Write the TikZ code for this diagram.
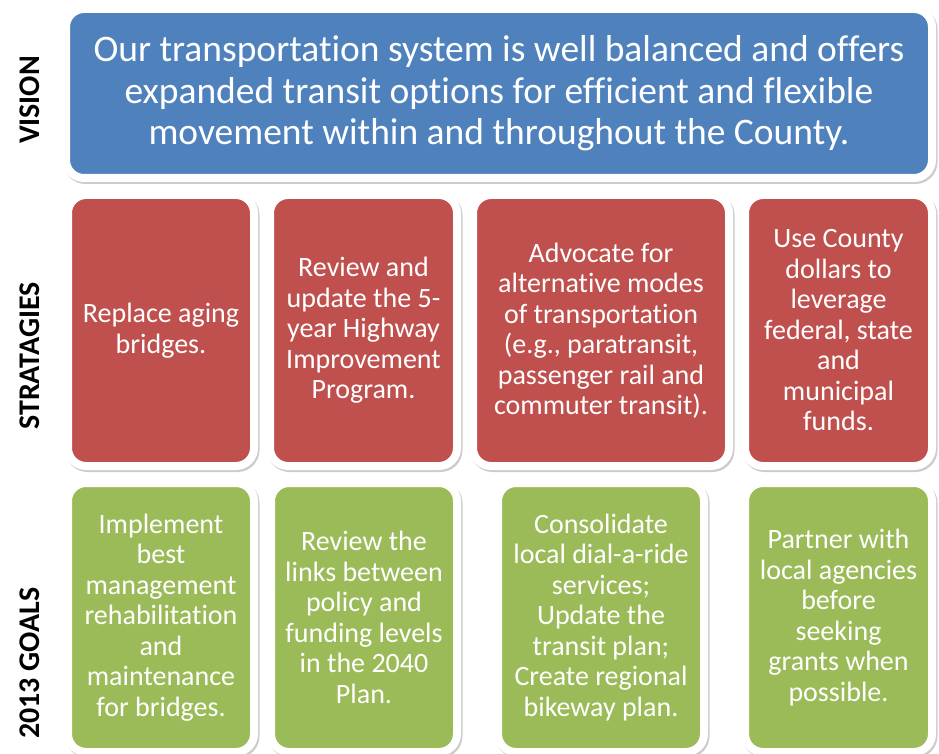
\documentclass[tikz,border=0pt]{standalone}
\usepackage{fontspec}
\setmainfont{Carlito}[Ligatures={NoCommon,NoContextual}]
\usetikzlibrary{shadows}
\definecolor{visblue}{HTML}{4F81BD}
\definecolor{strred}{HTML}{C0504D}
\definecolor{goalgreen}{HTML}{9BBB59}
\tikzset{
  framedbox/.style={draw=white, line width=8pt, rounded corners=18pt,
    inner sep=0pt, align=center, text=white,
    drop shadow={shadow xshift=1.5pt, shadow yshift=-2pt, fill=black!20, draw=black!20, line width=8pt, opacity=1}},
  bodytext/.style={font=\fontsize{28}{30.5}\selectfont},
  rowlabel/.style={rotate=90, font=\bfseries\fontsize{30}{32}\selectfont, text=black},
}
\begin{document}
\begin{tikzpicture}[x=1pt, y=-1pt]
\useasboundingbox (0,0) rectangle (939,754);
% vision
\node[framedbox, fill=visblue, minimum width=866pt, minimum height=169pt,
  font=\fontsize{37.5}{41.5}\selectfont] (vision) at (499,93.5)
  {Our transportation system is well balanced and offers\\expanded transit options for efficient and flexible\\movement within and throughout the County.};
% strategies
\node[framedbox, bodytext, fill=strred, minimum width=186pt, minimum height=271pt] (s1) at (161,330.5)
  {Replace aging\\bridges.};
\node[framedbox, bodytext, fill=strred, minimum width=187pt, minimum height=271pt] (s2) at (363.5,330.5)
  {Review and\\update the 5-\\year Highway\\Improvement\\Program.};
\node[framedbox, bodytext, fill=strred, minimum width=256pt, minimum height=271pt] (s3) at (601,330.5)
  {Advocate for\\alternative modes\\of transportation\\(e.g., paratransit,\\passenger rail and\\commuter transit).};
\node[framedbox, bodytext, fill=strred, minimum width=187pt, minimum height=271pt] (s4) at (838.5,330.5)
  {Use County\\dollars to\\leverage\\federal, state\\and\\municipal\\funds.};
% goals
\node[framedbox, bodytext, fill=goalgreen, minimum width=186pt, minimum height=269pt] (g1) at (161,617.5)
  {Implement\\best\\management\\rehabilitation\\and\\maintenance\\for bridges.};
\node[framedbox, bodytext, fill=goalgreen, minimum width=186pt, minimum height=269pt] (g2) at (364,617.5)
  {Review the\\links between\\policy and\\funding levels\\in the 2040\\Plan.};
\node[framedbox, bodytext, fill=goalgreen, minimum width=206pt, minimum height=269pt] (g3) at (601,617.5)
  {Consolidate\\local dial-a-ride\\services;\\Update the\\transit plan;\\Create regional\\bikeway plan.};
\node[framedbox, bodytext, fill=goalgreen, minimum width=187pt, minimum height=269pt] (g4) at (838.5,617.5)
  {Partner with\\local agencies\\before\\seeking\\grants when\\possible.};
% row labels
\node[rowlabel] (lvision) at (30,100) {VISION};
\node[rowlabel] (lstrat) at (30,356) {STRATAGIES};
\node[rowlabel] (lgoals) at (30,663) {2013 GOALS};
\end{tikzpicture}
\end{document}
